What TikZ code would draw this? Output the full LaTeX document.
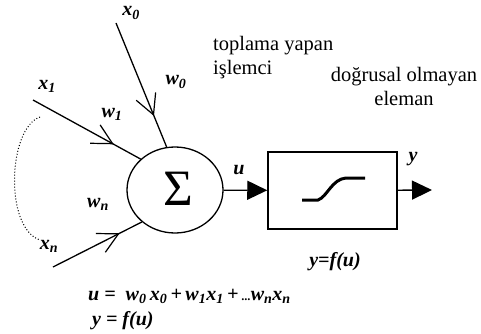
\documentclass[tikz,border=0pt]{standalone}
\usepackage{fontspec}
\setmainfont{Liberation Serif}
\usetikzlibrary{shapes.geometric,arrows.meta,decorations.markings,backgrounds}

\begin{document}
\begin{tikzpicture}[
    x=1pt, y=-1pt,
    background rectangle/.style={fill=white},
    show background rectangle,
    textlabel/.style={font=\fontsize{20.5}{24}\selectfont, inner sep=0pt},
    varlabel/.style={font=\fontsize{20}{24}\selectfont\bfseries\itshape, inner sep=0pt},
    conn/.style={line width=1.3pt},
    inarrow/.style={postaction={decorate},
        decoration={markings, mark=at position 0.75 with {\arrow{Straight Barb[length=20pt,width=21pt,line width=1.2pt]}}}},
    outarrow/.style={line width=1.3pt, -{Triangle[length=20pt,width=19pt]}}
]
    \useasboundingbox (0,0) rectangle (481,334);
    % Define the sizes of summer and nonlinear block
    \def\sumwidth{96pt};
    \def\sumheight{86pt};

    % Draw the summing unit and the nonlinear element
    \node[draw, ellipse, line width=1.3pt, minimum width=\sumwidth, minimum height=\sumheight, inner sep=0pt] (sum) at (175,190)
        {\raisebox{3pt}{\hspace{6pt}\fontsize{51}{51}\selectfont Σ}};
    \node[draw, line width=1.5pt, minimum width=129pt, minimum height=77pt] (act) at (332.5,190.5) {};
    \draw[line width=3pt] (302,200) -- (318,200) .. controls (327,197) and (332,179) .. (346,178) -- (365,178);

    % Input ends
    \coordinate (x0) at (116,23);
    \coordinate (x1) at (33,100);
    \coordinate (xn) at (53,267);
    \coordinate (out) at (432,190);

    \foreach \src/\ang in {x0/101, x1/138, xn/224} {
        \draw[conn, inarrow] (\src) -- (sum.\ang);
    }
    \draw[outarrow] (sum) -- (act);
    \draw[outarrow] (act) -- (out);

    % Dotted line for the other inputs
    \coordinate (dotA) at (40,117);
    \coordinate (dotB) at (40,240);
    \draw[dotted, line width=1pt] (dotA) .. controls (8,128) and (4,228) .. (dotB);

    % Labels
    \node[varlabel] (lx0) at (131,13) {x\textsubscript{0}};
    \node[varlabel] (lw0) at (176,82) {w\textsubscript{0}};
    \node[varlabel] (lx1) at (47,86) {x\textsubscript{1}};
    \node[varlabel] (lw1) at (112,114) {w\textsubscript{1}};
    \node[varlabel] (lwn) at (98,204) {w\textsubscript{n}};
    \node[varlabel] (lxn) at (49,246) {x\textsubscript{n}};
    \node[varlabel] (lu) at (239,170) {u};
    \node[varlabel] (ly) at (413,159) {y};
    \node[varlabel] (lf) at (335,262) {y=f(u)};

    \node[textlabel, anchor=north west, align=left] (summer) at (213,36) {toplama yapan\\işlemci};
    \node[textlabel, anchor=north, align=center] (nonlin) at (404,67) {doğrusal olmayan\\eleman};

    % Output equations
    \node[varlabel, anchor=base west] (equ) at (88,300)
        {u =\ \ w\textsubscript{0}\,x\textsubscript{0}\,+\,w\textsubscript{1}x\textsubscript{1}\,+\,{\fontsize{12}{12}\selectfont ...}w\textsubscript{n}x\textsubscript{n}};
    \node[varlabel, anchor=base west] (eqy) at (92,325) {y = f(u)};
\end{tikzpicture}
\end{document}
